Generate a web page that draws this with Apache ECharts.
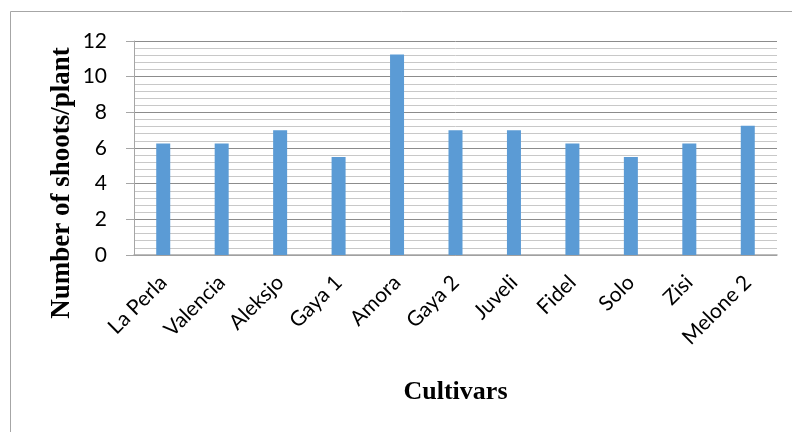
<!DOCTYPE html>
<html>
<head>
<meta charset="utf-8">
<script src="https://cdn.jsdelivr.net/npm/echarts@6/dist/echarts.min.js"></script>
<style>
  html, body { margin: 0; padding: 0; background: #fff; }
  #chart { width: 792px; height: 432px; }
</style>
</head>
<body>
<div id="chart"></div>
<script>
// Cultivars and shoots per plant
const cultivars = ['La Perla', 'Valencia', 'Aleksjo', 'Gaya 1', 'Amora', 'Gaya 2', 'Juveli', 'Fidel', 'Solo', 'Zisi', 'Melone 2'];
const shoots = [6.25, 6.25, 7, 5.5, 11.25, 7, 7, 6.25, 5.5, 6.25, 7.25];

const yMin = 0;
const yMax = 12;
const yStep = 2;

const titleFont = { fontFamily: 'Liberation Serif', fontWeight: 'bold', fontSize: 26, color: '#000' };

const chart = echarts.init(document.getElementById('chart'));

chart.setOption({
    animation: false,
    backgroundColor: '#fff',
    graphic: [
        {
            type: 'rect',
            shape: { x: 10.5, y: 11.5, width: 800, height: 440 },
            style: { fill: 'none', stroke: '#a6a6a6', lineWidth: 1 }
        },
        {
            // y axis title sits lower than the plot centre in the original
            type: 'text',
            x: 62,
            y: 183,
            rotation: Math.PI / 2,
            style: {
                text: 'Number of shoots/plant',
                font: 'bold 27px "Liberation Serif"',
                fill: '#000',
                align: 'center',
                verticalAlign: 'middle'
            }
        }
    ],
    grid: { left: 134, right: 15, top: 41, bottom: 177 },
    xAxis: {
        type: 'category',
        data: cultivars,
        name: 'Cultivars',
        nameLocation: 'middle',
        nameGap: 124,
        nameTextStyle: titleFont,
        axisLine: { lineStyle: { color: '#a6a6a6', width: 1.5 } },
        axisTick: { show: false },
        axisLabel: {
            rotate: 45,
            interval: 0,
            margin: 24,
            fontFamily: 'Lato',
            fontSize: 21,
            color: '#000'
        }
    },
    yAxis: {
        type: 'value',
        min: yMin,
        max: yMax,
        interval: yStep,
        axisLine: { show: true, lineStyle: { color: '#a6a6a6', width: 1 } },
        axisTick: { show: true, length: 8, lineStyle: { color: '#a6a6a6' } },
        axisLabel: { fontFamily: 'Lato', fontSize: 21, color: '#000', margin: 27 },
        splitLine: { lineStyle: { color: '#8c8c8c', width: 1 } },
        minorTick: { show: false, splitNumber: 5 },
        minorSplitLine: { show: true, lineStyle: { color: '#c8c8c8', width: 1 } }
    },
    series: [{
        type: 'bar',
        data: shoots,
        barWidth: 14,
        itemStyle: { color: '#5b9bd5' }
    }]
});
</script>
</body>
</html>
